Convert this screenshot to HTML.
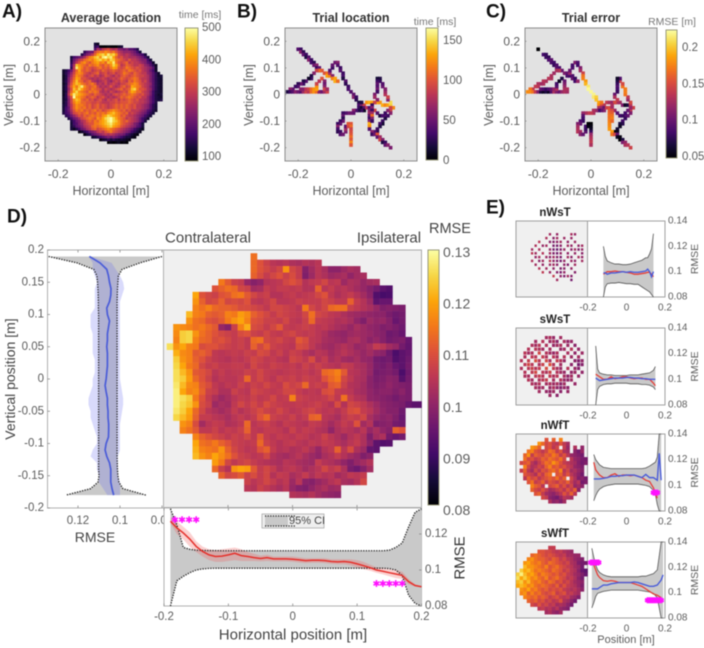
<!DOCTYPE html>
<html><head><meta charset="utf-8"><title>RMSE maps</title>
<style>
html,body{margin:0;padding:0;background:#fff;width:704px;height:648px;overflow:hidden}
svg{display:block;filter:blur(0.55px);font-family:"Liberation Sans",sans-serif}
</style></head>
<body>
<svg id="chart" xmlns="http://www.w3.org/2000/svg" width="704" height="648" viewBox="0 0 704 648">
<defs><linearGradient id="inferno" x1="0" y1="1" x2="0" y2="0">
<stop offset="0" stop-color="#000004"/><stop offset=".1" stop-color="#160b39"/><stop offset=".2" stop-color="#420a68"/><stop offset=".3" stop-color="#6a176e"/><stop offset=".4" stop-color="#932667"/><stop offset=".5" stop-color="#bc3754"/><stop offset=".6" stop-color="#dd513a"/><stop offset=".7" stop-color="#f37819"/><stop offset=".8" stop-color="#fca50a"/><stop offset=".9" stop-color="#f6d746"/><stop offset="1" stop-color="#fcffa4"/>
</linearGradient></defs>
</svg>
<script>
// Panel A: average time per cell, tens of ms; each row = [first x in cm, values...], from y=19 cm down
const avgTimeRows=[
[-6,14,12],
[-6,16,18,10,9,9,11,10,10,10,12,14],
[-6,20,28,25,30,32,34,30,28,30,25,24,22,24,20,20,18,15],
[-10,16,20,22,22,32,36,38,37,40,38,36,38,34,30,28,26,26,26,24,22,18,14],
[-11,15,20,24,26,30,36,42,44,46,42,48,44,46,40,32,30,28,30,28,26,24,22,20,18,14],
[-15,14,18,20,22,24,28,34,38,40,44,46,40,48,50,46,48,42,36,32,34,30,30,28,28,28,26,24,22,18,14],
[-15,15,22,26,30,32,36,38,40,38,42,44,46,42,44,40,46,44,38,36,34,32,30,34,30,30,28,26,24,24,18,14],
[-15,16,24,30,34,38,40,36,34,38,40,42,38,40,36,44,42,48,38,34,32,34,36,30,32,30,30,28,26,24,20,18,13],
[-15,18,28,44,40,38,36,34,38,36,38,40,36,34,38,36,40,46,42,36,30,32,36,34,32,30,30,32,30,26,24,20,16,12],
[-15,16,30,48,42,38,34,36,34,32,34,36,38,34,36,34,38,42,40,34,32,34,38,36,34,32,34,32,30,28,26,24,20,13],
[-18,13,15,18,22,30,36,42,36,34,36,34,30,32,34,32,36,34,32,34,36,34,32,34,36,34,38,36,34,32,34,30,28,26,22,18,13],
[-18,13,16,20,26,32,38,40,38,34,32,30,32,34,36,30,32,34,30,32,34,30,32,34,38,36,34,32,36,34,32,30,30,26,24,20,16,13],
[-18,12,15,22,28,34,40,38,36,32,30,32,34,30,32,28,30,34,32,30,28,32,30,34,36,34,32,34,36,34,32,32,30,28,24,20,16,13,14],
[-18,12,15,24,30,36,42,40,34,34,32,30,28,30,28,30,32,30,28,30,32,30,32,36,34,32,34,36,38,36,32,30,30,28,24,20,16,14,13],
[-18,13,16,24,32,38,44,38,36,32,34,36,30,28,26,28,30,32,28,26,30,32,30,34,32,30,36,34,38,36,34,30,32,28,24,20,16,14,13],
[-18,12,15,26,34,40,44,42,38,36,34,36,38,34,28,30,28,32,28,30,32,30,28,32,32,34,36,38,40,38,34,32,30,28,26,20,16,14,13],
[-18,13,16,28,36,42,38,44,48,40,36,34,36,38,32,28,30,28,30,34,30,28,30,34,36,32,34,42,40,38,36,32,30,28,24,20,16,14,13],
[-18,13,16,26,34,44,40,46,42,38,36,34,38,36,34,32,28,32,30,28,30,32,34,36,32,34,36,44,46,38,34,34,32,28,26,20,16,14,13],
[-18,12,15,28,36,42,46,40,38,36,34,38,36,38,36,30,28,30,28,32,30,28,30,32,34,32,38,42,40,36,36,32,30,28,24,18,15,14,13],
[-18,12,16,30,40,48,44,42,40,38,36,34,32,36,34,32,30,28,30,28,32,34,32,34,36,34,36,38,36,34,32,34,30,28,24,18,15,13,14],
[-18,13,16,26,34,50,42,40,38,36,32,34,36,34,30,32,34,30,28,30,28,30,32,36,34,36,38,36,34,32,34,30,30,26,22,18,15,14,13],
[-18,13,15,24,32,40,44,42,36,34,36,32,34,30,32,34,30,28,32,30,32,34,30,34,32,34,36,34,32,34,30,30,28,26,22,18,15,14,15],
[-18,13,16,24,32,38,42,40,36,36,34,34,32,32,34,32,30,30,30,32,32,34,32,34,34,34,36,34,32,32,30,30,28,26,22,18,15],
[-18,14,16,24,30,36,40,38,38,36,34,36,32,34,36,32,34,32,30,32,34,36,34,36,34,36,34,32,34,30,30,28,26,24,20,16,14],
[-18,14,18,22,30,36,40,38,36,38,34,36,32,34,36,32,34,32,30,32,34,36,34,36,34,36,34,32,34,30,30,28,26,24,20,16,14],
[-18,14,18,22,28,34,38,36,38,34,36,34,36,38,34,36,32,34,36,38,40,38,36,34,36,32,34,30,30,30,28,26,24,20,18,15,13],
[-18,15,18,20,26,32,34,36,34,36,38,34,36,34,38,36,38,36,40,42,44,40,38,36,34,36,30,32,30,28,26,24,22,18,16,14],
[-17,16,18,22,26,30,34,32,36,34,36,38,36,38,36,40,42,46,44,42,40,38,34,36,32,30,30,28,26,24,22,18,16,14],
[-16,15,18,22,24,28,32,34,36,38,36,34,40,38,42,46,48,50,46,42,38,36,34,30,32,30,28,26,22,18,16,13],
[-15,15,18,22,24,28,30,34,36,34,38,36,40,42,44,48,50,46,44,40,36,34,36,32,30,28,26,22,18,14],
[-15,14,18,20,24,26,30,32,34,34,38,38,40,42,44,46,48,44,42,40,36,34,32,30,28,24,22,18,14],
[-15,14,16,20,22,24,28,30,32,36,38,36,38,40,42,44,46,42,40,38,34,32,30,28,26,24,20,18,14],
[-15,14,12,15,18,22,24,28,30,34,36,32,34,36,38,40,38,36,34,32,30,28,26,24,22,18,16,14,12],
[-12,11,13,16,18,22,24,26,30,32,30,34,36,38,34,32,30,28,26,24,22,18,16,14,12],
[-10,11,14,16,20,22,24,26,28,30,28,30,28,26,24,24,22,18,16,14,12,11],
[-7,13,14,16,18,20,22,24,22,24,22,20,18,16,14,14,12,11],
[-4,11,13,14,16,14,16,14,13,14,13,12,11],
[-1,10,11,10,11,12,10,11,10]
];
const avgTimeTicks=[100,200,300,400,500];

// Panels B and C: one trial, positions in cm, time in ms, error in thousandths of a metre (0 = cell not drawn)
const trialX=[
-20,-19,-19,-18,-18,-17,-17,-16,-16,-15,-15,-14,-14,-13,-13,-12,-12,-11,
-12,-13,-14,-15,-15,-16,-17,-18,-18,-19,-20,-20,-21,-22,-23,-24,
-23,-22,-21,-20,-19,-18,-17,-16,-15,-14,-13,-12,-11,-10,-9,
-19,-18,-17,-16,-15,-14,-13,
-13,-13,-12,-11,-10,-10,-10,-10,-9,
-10,-9,-9,-8,-7,-7,-6,-6,-5,
-8,-8,-7,-7,-6,-5,-5,-4,
-4,-3,-3,-3,-2,-2,-1,-1,0,1,1,2,2,3,3,
4,5,6,7,8,9,10,11,12,13,14,15,
15,16,15,15,14,13,13,12,12,11,11,10,10,9,
14,14,13,13,13,12,12,11,11,10,10,10,10,10,10,9,9,10,9,
4,3,4,5,5,4,3,2,1,1,0,
6,7,7,7,7,7,7,7,7,7,8,8,9,10,10,11,11,12,12,13,13,14,15,
8,8,9,10,11,12,13,14,15,8,8,8,8,8,
-1,-2,-3,-3,-3,-3,-4,-4,-5,-5,-5,-5,-4,-4,-3,-2,-2,-2,-1,-1,0,0,0,0,0,0,0,0,0
];
const trialY=[
17,17,16,16,15,15,14,14,13,13,12,12,11,11,10,10,9,9,
9,9,8,7,6,6,5,5,4,4,4,3,3,2,2,1,
1,1,1,1,1,1,1,1,1,1,1,1,1,1,1,
2,2,2,2,2,2,2,
3,4,5,6,5,4,3,2,2,
8,8,7,7,7,6,6,5,5,
8,9,10,11,12,12,11,10,
9,8,7,6,5,4,3,2,1,0,-1,-1,-2,-3,-4,
-4,-4,-3,-3,-3,-3,-3,-3,-4,-4,-4,-4,
-3,-5,-6,-7,-8,-8,-9,-10,-11,-11,-12,-13,-14,-14,
-2,-1,0,1,2,3,4,5,6,6,5,4,3,2,1,0,-1,-2,-3,
-3,-5,-5,-5,-6,-6,-6,-6,-6,-7,-7,
-5,-5,-6,-7,-8,-9,-10,-11,-12,-13,-14,-15,-15,-15,-16,-16,-17,-17,-18,-18,-19,-19,-20,
-4,-5,-6,-7,-8,-8,-7,-6,-5,-6,-7,-8,-9,-10,
-7,-7,-7,-8,-9,-10,-10,-11,-11,-12,-13,-14,-14,-15,-15,-14,-13,-12,-12,-11,-11,-12,-13,-14,-15,-16,-17,-18,-19
];
const trialTime=[
40,30,60,25,45,30,20,40,60,30,35,25,50,60,30,45,70,100,
110,90,60,20,30,10,40,20,30,50,25,40,30,45,60,20,
30,40,60,50,40,70,90,80,110,125,110,60,50,70,90,
60,60,80,90,110,125,130,
125,90,80,100,60,50,60,90,70,
100,110,130,120,60,120,130,135,110,
70,40,30,45,50,60,40,30,
40,30,35,20,40,25,30,35,40,45,60,30,25,20,35,
60,90,125,135,130,140,130,125,135,120,130,145,
150,120,90,60,30,40,20,30,15,35,20,30,25,40,
60,90,80,70,60,50,40,30,20,15,30,45,40,50,30,55,70,60,90,
20,30,15,40,10,30,20,35,60,45,50,
80,40,60,70,45,30,60,135,125,40,60,30,50,100,45,70,90,60,20,30,45,60,55,
30,60,90,40,20,35,30,60,90,30,70,110,60,30,
50,40,30,45,25,50,30,45,30,60,35,25,30,40,50,55,70,45,90,100,100,110,90,95,100,110,100,120,100
];
const trialError=[
50,0,0,0,85,80,82,78,90,95,90,85,80,90,95,88,92,100,
135,130,125,130,130,135,130,135,130,125,130,135,140,140,170,180,
180,170,140,110,70,60,70,60,90,130,110,100,120,130,125,
100,90,80,90,100,120,130,
95,85,60,70,100,110,120,130,130,
110,100,90,85,90,100,80,85,120,
120,100,90,85,110,90,85,110,
125,145,170,175,185,195,215,222,222,220,215,205,200,190,180,
150,135,140,130,120,110,130,125,110,60,70,135,
150,145,140,110,100,95,80,85,75,70,60,65,60,55,
120,135,170,175,175,170,150,145,90,60,70,80,90,85,80,100,130,140,150,
170,130,120,100,115,100,85,120,130,130,140,
145,150,160,165,170,170,175,178,180,185,185,170,150,100,60,55,50,70,110,120,130,135,145,
130,125,120,95,85,80,85,100,120,150,160,170,175,165,
140,130,120,95,85,80,90,100,110,125,130,135,125,115,100,95,80,85,55,50,50,55,60,80,120,130,135,140,130
];
const trialTimeTicks=[0,50,100,150];
const trialErrorTicks=[0.05,0.1,0.15,0.2];
const mapTicks=[-0.2,0,0.2];
const mapYTicks=[0.2,0.1,0,-0.1,-0.2];

// Panel D heatmap: RMSE in thousandths; each row = [first x in cm, values...], from y=19 cm down
const rmseRows=[
[-6,114],
[-6,113,110,107,104,103,104,102,101,103,102,104],
[-6,113,110,108,106,108,118,108,106,95,100,104,101,96,96,99,101,100],
[-6,112,109,106,108,110,107,109,106,94,99,104,102,99,100,101,97,100,101],
[-11,115,111,107,106,98,95,97,103,104,105,108,110,108,103,105,106,108,104,105,99,102,101,98,100,101],
[-12,110,112,114,113,108,107,100,101,106,104,106,106,105,106,103,103,112,104,106,103,104,102,100,98,95,92,88,86],
[-15,120,110,108,107,110,111,114,115,111,108,106,107,103,103,105,106,104,105,106,108,110,105,102,104,106,103,100,96,86,84,85],
[-15,118,112,108,109,112,108,109,108,110,105,104,106,108,104,104,105,107,106,106,106,108,107,105,105,112,106,103,99,88,90,90],
[-15,116,114,116,113,112,112,111,109,109,108,107,105,108,108,107,106,104,115,108,106,108,113,114,114,107,105,103,101,98,94,95,94,93],
[-16,122,116,115,112,111,112,116,115,119,117,112,110,108,106,108,107,106,105,108,114,108,107,105,104,102,100,99,98,97,96,96,93,91,92],
[-16,118,114,113,110,109,111,115,118,120,116,110,109,107,107,106,108,105,104,107,113,106,105,104,102,103,101,97,94,99,97,98,95,90,92],
[-18,118,117,116,114,115,113,111,98,95,107,116,121,109,108,106,108,111,106,105,106,107,106,104,105,103,101,100,98,101,99,97,96,94,95,93,91],
[-18,117,124,125,118,114,112,110,108,107,106,109,110,107,106,108,106,105,107,108,106,105,106,104,102,99,98,97,99,100,99,98,96,95,91,92,90],
[-18,116,124,125,116,113,112,109,110,108,106,107,105,113,114,108,107,108,106,105,111,109,105,104,101,100,99,98,101,102,99,96,98,95,92,93,94,90],
[-19,126,118,120,116,115,109,110,110,108,107,106,107,105,112,108,111,107,106,105,104,109,108,105,102,100,99,101,103,101,98,99,101,106,104,100,98,92,89],
[-18,121,117,116,111,112,110,105,104,105,106,105,107,106,109,108,105,107,104,107,106,103,101,104,103,100,102,104,102,100,98,100,97,96,91,85,88,90],
[-18,124,118,116,112,110,107,105,104,103,105,104,106,108,107,105,106,104,103,108,107,105,109,103,106,101,103,100,99,101,98,97,92,91,92,86,88,91],
[-18,125,120,115,113,108,106,107,105,105,106,106,104,108,106,105,107,106,105,106,104,107,105,107,105,104,103,106,105,102,101,98,93,92,94,90,88,92],
[-18,126,122,118,111,110,108,104,106,104,105,105,107,106,108,106,105,104,105,106,105,106,104,106,113,114,116,111,104,103,101,98,92,93,94,92,85,91],
[-18,126,124,119,113,110,107,103,105,104,104,106,113,106,108,106,104,107,106,107,105,107,106,105,110,113,115,108,105,102,101,96,93,94,96,95,87,92],
[-18,127,122,117,116,111,109,105,103,105,104,107,105,107,106,108,106,105,109,107,108,113,106,107,106,111,112,107,103,102,100,96,94,95,97,95,94,93],
[-18,128,120,116,117,112,107,106,102,102,107,105,104,108,107,106,105,106,108,108,106,104,105,104,109,110,106,105,104,101,100,97,95,96,96,94,96,93],
[-18,128,126,124,115,110,106,102,99,101,104,106,105,107,105,106,108,105,106,116,107,106,105,105,106,108,105,114,106,103,102,97,96,95,94,92,94,93],
[-18,128,125,123,118,109,107,99,101,100,105,108,106,108,106,109,107,106,105,105,106,105,106,107,105,103,109,103,108,107,105,102,99,96,95,94,93,90,88,88],
[-18,127,124,120,113,108,104,102,100,102,106,103,105,107,109,107,106,108,106,104,105,107,108,106,104,105,103,106,109,110,106,104,100,97,95,95,91],
[-18,125,122,119,112,106,106,104,103,101,104,106,104,106,110,113,107,106,105,107,104,106,112,113,104,103,101,105,107,106,108,101,98,96,97,94,90],
[-17,118,116,109,100,104,106,105,102,103,105,113,104,106,107,105,103,106,105,104,103,106,105,103,100,103,106,104,110,100,103,94,95,96,92,91],
[-17,116,114,111,105,105,107,104,106,105,107,112,105,104,106,106,105,103,107,104,106,105,103,102,97,102,104,103,101,104,98,101,97,95,112,110],
[-15,116,112,110,108,107,105,107,106,108,105,111,106,104,106,105,104,106,105,103,104,107,104,102,99,103,105,102,94,100,102,92,90,92],
[-15,120,114,113,115,112,110,107,106,105,106,113,107,105,103,105,106,104,103,105,104,106,105,103,101,104,106,102,96,88,86,87],
[-15,121,116,115,114,118,112,108,106,104,105,110,112,106,103,104,102,103,105,102,98,103,105,112,104,109,102,99,89,88],
[-15,122,118,116,120,117,114,110,107,106,104,105,108,103,101,100,102,104,101,99,97,101,103,106,103,100,98,94,96],
[-12,119,115,108,105,107,108,106,104,103,102,101,104,103,101,100,99,106,103,102,100,97,94,98,100,103],
[-12,113,107,103,118,120,119,111,106,108,106,102,104,105,103,100,102,104,108,105,107,102,93,91,95,100],
[-11,112,108,109,111,107,109,106,108,103,106,105,101,103,106,102,105,103,104,100,102,105,104,106],
[-7,107,104,106,108,106,103,105,99,104,96,95,98,100,103,105,101,100,103,108],
[-7,104,103,107,105,103,101,104,98,95,94,97,100,102,99,100],
[0,103,102,101,103,100,98,97,96]
];
const rmseTicks=[0.13,0.12,0.11,0.1,0.09,0.08];

// Panel D marginal, vertical position (m) against RMSE (thousandths)
const verticalPos=[.19,.18,.17,.16,.15,.14,.13,.12,.11,.1,.09,.08,.07,.06,.05,.04,.03,.02,.01,0,-.01,-.02,-.03,-.04,-.05,-.06,-.07,-.08,-.09,-.1,-.11,-.12,-.13,-.14,-.15,-.16,-.17,-.18];
const verticalBlue=[114.6,109.5,106.3,105.5,105,104.3,104.4,105,106.3,106,105,105.5,106,106,106.3,106,106,106,106.3,106.6,107.1,106.6,106,106,105.7,105.7,105.4,105.4,105.5,106.6,107.1,106.3,105,104.4,104.4,104.4,103.8,103];
const verticalBlueHigh=[115,113,113,112,111,112,112,112,112,114,114,114,113,113,113,113,112,112,112,113,113,114,115,115,114,114,113,112,111,111,113,114,111,111,110,110,108,106];
const verticalBlueLow=[114,104,102,100,98.5,98,99,100,100,100,100,100,100,100,100,100,100,100,100,100,99.5,99,98.5,98.5,99,99.5,100,100,100,100,100,101,101,101,101,100,100,100];
const verticalCiHigh=[134,120.5,112.5,111,110.7,110.5,110.4,110.3,110.3,110.2,110.2,110.2,110.2,110.2,110.2,110.2,110.2,110.2,110.2,110.2,110.2,110.2,110.2,110.2,110.2,110.2,110.2,110.2,110.2,110.2,110.2,110.2,110.2,110.2,110,110.5,114,125.7];
const verticalCiLow=[80,90.5,99,100.8,101,101.2,101.3,101.4,101.4,101.4,101.4,101.4,101.4,101.4,101.4,101.4,101.4,101.4,101.4,101.4,101.4,101.4,101.4,101.4,101.4,101.4,101.4,101.4,101.4,101.4,101.4,101.4,101.3,101.2,101,100.5,98.6,87.7];
const verticalTicks=[.2,.15,.1,.05,0,-.05,-.1,-.15,-.2];
const verticalRmseTicks=[0.12,0.1,0.08];

// Panel D marginal, horizontal position (m) against RMSE (thousandths)
const horizontalPos=[-.19,-.18,-.17,-.16,-.15,-.14,-.13,-.12,-.11,-.1,-.09,-.08,-.07,-.06,-.05,-.04,-.03,-.02,-.01,0,.01,.02,.03,.04,.05,.06,.07,.08,.09,.1,.11,.12,.13,.14,.15,.16,.17,.18,.19,.2];
const horizontalRed=[127.1,123.4,120.6,117.2,113.1,110.3,108.4,107.5,107.7,108.4,109.3,108,107.5,106.9,106.4,106.9,106.2,106.2,106.2,106,105.6,105.2,105.4,105.4,105.2,104.7,104.5,104.7,104.3,103.4,102.4,101.3,100,99.3,98.5,97.8,97,93.5,91.4,90.7];
const horizontalRedHigh=[129,127,124,121,116,113,111.5,111,111.5,112,112.5,111.5,110,109,108,108.5,107.5,107.5,107.5,107.5,107,106.5,106.5,106.5,106.5,106,106,106,106,105.5,104.5,103,101.5,101,100.5,100,99,95,92,91];
const horizontalRedLow=[126,120,117,113,110,107.5,105.5,104.5,104.5,105,105.5,105,105,105,104.8,105,104.8,104.8,104.8,104.6,104.2,103.8,104,104,103.8,103.4,103.2,103.2,102.6,101.4,100.4,99.6,98.5,97.6,96.5,95.5,95,92,90.8,90.4];
const horizontalCiHigh=[134,125,112.5,111.5,111,110.9,110.8,110.8,110.7,110.7,110.7,110.7,110.7,110.7,110.7,110.7,110.7,110.7,110.7,110.7,110.7,110.7,110.7,110.7,110.7,110.7,110.7,110.7,110.7,110.7,110.7,110.7,110.7,110.7,111,112.5,115,124,132,134];
const horizontalCiLow=[80,94,96.5,98.5,100,100.6,100.9,101,101,101,101,101,101,101,101,101,101,101,101,101,101,101,101,101,101,101,101,101,101,101,101,101,101,101,100.8,100,97,86,81.5,80];
const horizontalTicks=[-0.2,-0.1,0,0.1,0.2];
const horizontalRmseTicks=[0.12,0.1,0.08];
const contraStarsX=[-.183,-.172,-.161,-.15];
const contraStarsY=[128,128,128,128];
const ipsiStarsX=[.13,.14,.15,.16,.17];
const ipsiStarsY=[92.5,92.5,92.5,92.5,92.5];

// Panel E maps: RMSE thousandths on a 2 cm grid, x from -19 to 19, y from 19 to -19; 0 = empty
const nWsTMap=[
[0,0,0,0,0,0,0,0,0,0,0,0,0,0,0,0,0,0,0,0],
[0,0,0,0,0,0,0,0,0,0,0,0,0,0,0,0,0,0,0,0],
[0,0,0,0,0,0,0,0,0,0,0,0,0,0,0,0,0,0,0,0],
[0,0,0,0,0,0,0,0,0,100,0,98,0,0,0,101,98,0,0,0],
[0,0,0,0,0,0,0,0,102,0,96,100,0,99,0,98,0,0,0,0],
[0,0,0,0,0,0,104,0,0,96,94,97,100,0,97,0,99,0,0,0],
[0,0,0,0,0,102,0,98,100,0,93,92,96,0,100,98,0,97,100,0],
[0,0,0,0,100,0,102,0,0,98,92,90,94,99,0,96,100,94,98,0],
[0,0,0,0,104,100,0,103,0,100,94,92,98,0,97,0,98,0,96,0],
[0,0,0,0,0,98,101,0,99,96,100,95,93,0,100,96,0,101,98,0],
[0,0,0,0,102,0,96,100,0,104,97,94,92,98,0,99,97,0,100,0],
[0,0,0,0,0,100,0,98,0,99,100,96,0,97,94,0,100,0,0,0],
[0,0,0,0,0,0,103,0,100,0,97,0,94,96,0,98,0,0,0,0],
[0,0,0,0,0,0,0,105,0,99,0,95,93,98,0,0,95,0,0,0],
[0,0,0,0,0,0,0,0,0,0,106,0,97,94,100,95,0,0,0,0],
[0,0,0,0,0,0,0,0,0,0,0,100,0,0,0,92,0,0,0,0],
[0,0,0,0,0,0,0,0,0,0,0,0,0,0,0,0,0,0,0,0],
[0,0,0,0,0,0,0,0,0,0,0,0,0,0,0,0,0,0,0,0],
[0,0,0,0,0,0,0,0,0,0,0,0,0,0,0,0,0,0,0,0],
[0,0,0,0,0,0,0,0,0,0,0,0,0,0,0,0,0,0,0,0]
];
const sWsTMap=[
[0,0,0,0,0,0,0,0,0,0,0,0,0,0,0,0,0,0,0,0],
[0,0,0,0,0,0,0,0,0,0,0,0,0,0,0,0,0,0,0,0],
[0,0,0,0,0,0,0,0,100,102,98,0,100,0,0,0,0,0,0,0],
[0,0,0,0,0,100,0,103,0,99,101,96,0,101,97,98,0,0,0,0],
[0,0,0,0,102,100,104,0,102,0,98,100,102,0,99,0,96,0,0,0],
[0,0,0,103,0,104,102,100,0,101,0,0,98,100,0,103,0,98,0,0],
[0,0,104,100,102,0,108,0,103,100,98,102,0,0,101,0,97,0,99,0],
[0,0,102,0,105,104,0,106,102,0,104,100,0,103,0,99,0,100,0,0],
[0,103,0,106,0,109,104,0,108,101,0,106,103,98,0,0,96,94,97,0],
[0,0,104,108,104,0,102,107,0,110,103,0,100,0,0,96,0,92,95,0],
[0,102,0,104,107,103,106,0,109,0,106,101,99,0,103,0,98,95,0,0],
[0,0,103,0,105,108,0,104,102,107,0,103,100,98,0,97,99,0,97,0],
[0,0,102,101,0,104,106,103,0,105,102,104,0,101,96,100,0,98,0,0],
[0,0,0,103,100,0,102,104,106,0,101,0,103,98,97,99,0,0,0,0],
[0,0,0,0,102,100,103,0,100,102,99,101,96,100,0,0,98,0,0,0],
[0,0,0,0,0,101,99,100,0,98,102,97,95,98,96,0,0,0,0,0],
[0,0,0,0,0,0,100,0,98,97,99,0,96,0,98,0,0,0,0,0],
[0,0,0,0,0,0,0,0,0,99,0,96,0,0,0,0,0,0,0,0],
[0,0,0,0,0,0,0,0,0,0,0,0,0,0,0,0,0,0,0,0],
[0,0,0,0,0,0,0,0,0,0,0,0,0,0,0,0,0,0,0,0]
];
const nWfTMap=[
[0,0,0,0,0,0,0,0,0,0,0,0,0,0,0,0,0,0,0,0],
[0,0,0,0,0,0,0,0,110,0,112,0,116,0,0,0,0,0,0,0],
[0,0,0,0,0,0,118,113,108,110,106,104,110,105,100,0,0,0,0,0],
[0,0,0,0,118,116,112,0,108,110,104,108,0,106,98,0,102,0,97,0],
[0,0,0,114,116,110,108,105,108,114,112,106,110,102,100,0,96,92,98,0],
[0,0,112,118,106,112,110,108,112,110,115,112,106,110,104,98,96,94,92,0],
[0,0,114,108,110,106,108,112,110,114,112,110,114,108,0,104,98,96,93,92],
[0,108,110,112,104,100,106,110,114,112,118,114,110,106,104,102,100,95,92,94],
[0,0,116,108,102,104,108,106,112,116,110,112,108,110,106,104,98,96,94,0],
[0,106,112,104,100,108,104,110,108,112,114,110,116,104,108,100,102,98,95,0],
[0,0,110,108,106,102,110,106,112,114,0,110,112,106,110,104,100,96,92,0],
[0,0,104,112,108,110,104,108,110,112,110,114,108,112,0,108,102,94,96,92],
[0,0,0,110,114,106,108,112,106,110,108,106,110,108,112,106,100,104,92,94],
[0,0,0,0,116,112,110,104,0,108,110,112,106,110,104,108,98,100,96,0],
[0,0,0,0,112,108,106,110,106,100,102,106,108,104,110,106,112,96,0,0],
[0,0,0,0,0,110,112,106,100,98,96,100,104,110,106,112,104,0,0,0],
[0,0,0,0,0,0,0,108,106,96,94,92,98,104,102,100,0,0,0,0],
[0,0,0,0,0,0,0,0,0,102,96,98,94,100,0,0,0,0,0,0],
[0,0,0,0,0,0,0,0,0,0,0,0,0,0,0,0,0,0,0,0],
[0,0,0,0,0,0,0,0,0,0,0,0,0,0,0,0,0,0,0,0]
];
const sWfTMap=[
[0,0,0,0,0,0,0,0,0,0,0,0,0,0,0,0,0,0,0,0],
[0,0,0,0,0,0,0,0,0,106,106,0,0,0,0,0,0,0,0,0],
[0,0,0,0,0,0,110,110,108,108,106,104,106,102,100,98,0,0,0,0],
[0,0,0,0,112,114,112,110,108,110,108,106,104,106,100,100,98,98,0,0],
[0,0,0,116,118,114,112,112,110,108,112,110,106,108,104,102,98,96,94,0],
[0,0,118,120,116,114,116,112,110,114,112,110,108,106,108,102,100,94,92,92],
[0,0,122,118,118,116,114,112,116,110,112,114,110,108,106,104,100,98,92,0],
[0,124,120,122,118,114,116,114,112,110,114,112,110,106,108,104,102,96,90,88],
[124,128,122,118,120,116,112,116,114,112,110,112,108,110,106,104,100,98,94,90],
[126,120,124,120,116,118,114,112,116,110,112,114,110,108,104,106,102,96,92,0],
[122,124,118,122,116,114,116,112,110,114,112,108,110,106,108,104,100,98,96,0],
[120,122,120,116,118,114,112,114,112,110,108,112,106,110,106,104,102,98,94,0],
[0,118,116,120,114,116,112,110,112,108,110,108,110,106,104,102,104,100,96,0],
[0,116,118,112,116,112,114,110,108,110,112,106,108,110,104,106,102,100,0,0],
[0,0,116,114,112,114,110,112,110,106,108,110,106,104,106,100,98,94,0,0],
[0,0,0,112,110,112,108,110,106,108,104,106,110,102,100,96,92,0,0,0],
[0,0,0,0,108,106,110,106,108,104,106,100,102,100,96,92,0,0,0,0],
[0,0,0,0,0,0,104,106,102,104,100,104,98,96,94,0,0,0,0,0],
[0,0,0,0,0,0,0,0,100,102,98,96,100,0,0,0,0,0,0,0],
[0,0,0,0,0,0,0,0,0,0,0,0,0,0,0,0,0,0,0,0]
];

// Panel E lines: x in cm, RMSE thousandths
const nWsTX=[-12,-11,-10,-8,-6,-4,-2,0,2,4,6,8,10,11,12,13,14];
const nWsTUpper=[120,112,108.5,107,106,106,105.5,105.5,106,107,108,109,111,111,114,118,130];
const nWsTLower=[80,88,90.5,91,91,91.5,91,90.5,90.5,90,90,88,86,85,84,82,80];
const nWsTRed=[98,99,100,100,100.5,100,100,99.5,99,98,98,98.5,99,99.5,99.5,98,96];
const nWsTBlue=[99,99,98,99,99,99.5,100,99.5,100,99.5,99.5,100,100.5,102,100,96,100];
const sWsTX=[-16,-15,-14,-12,-10,-8,-6,-4,-2,0,2,4,6,8,10,12,14,15];
const sWsTUpper=[126,108,105,104,103.5,103.5,103,103,103,103,103.5,103.5,103.5,104,104.5,105,107,110];
const sWsTLower=[80,92,94.5,96,96.5,96.5,97,97,97,97,96.5,96.5,96.5,96,96,95.5,94,92];
const sWsTRed=[104,103,102,100,100,102,100.5,101,102,102,101,100.5,101,101,100,100,97,95];
const sWsTBlue=[101,100,99,99.5,100,100.5,101,101,101,101.5,101.5,101,101,100.5,100.5,100,100,100];
const nWfTX=[-17,-16,-15,-14,-12,-10,-8,-6,-4,-2,0,2,4,6,8,10,12,14,15,16,17,18];
const nWfTUpper=[124,120,118,116,114,113.5,113,113,113,113,113,113,113,113,113,113.5,115,117,118,122,140,140];
const nWfTLower=[88,92,95,97,99,100,100.5,101,101,101,101,101,101,101,100.5,100,99,96,93,85,80,80];
const nWfTRed=[118,112,110,108,106,106,108,109,107,108,108,107.5,108,107,106,104,103,98,94,90];
const nWfTBlue=[105,105,105,105,105.5,106,107,107,107.5,107.5,108,108,108,107,106,108.5,106,106,105,104,125,104];
const nWfTStarX=[14,15,16];
const nWfTStarY=[94.3,94.3,94.3];
const sWfTX=[-18,-17,-16,-15,-14,-12,-10,-8,-6,-4,-2,0,2,4,6,8,10,12,14,16,18,19];
const sWfTUpper=[135,128,122,118,116,114,113,112.5,112.5,112.5,112.5,112.5,112.5,112.5,112.5,113,113,114,115,118,140,140];
const sWfTLower=[88,92,97,99.5,100,101,101.5,102,102,102,102,102,102,102,102,101.5,101,100.5,99.5,96,80,80];
const sWfTRed=[125,122,118,114,112,109.5,109,109.5,109,108,108,108,108,107,106,105,103,101,99,98,96];
const sWfTBlue=[103,103,103,103,104,106,106,107,107.5,108,108,108,108,108.5,108,107,106,105,105,106,110,114];
const sWfTStarTopX=[-18.5,-17.5,-16.5,-15.5,-14.5];
const sWfTStarTopY=[123.8,123.8,123.8,123.8,123.8];
const sWfTStarBottomX=[11,12,13,14,15,16,17,18];
const sWfTStarBottomY=[94,94,94,94,94,94,94,94];
const smallRmseTicks=[0.14,0.12,0.1,0.08];
const smallPosTicks=[-0.2,0,0.2];

const NS='http://www.w3.org/2000/svg';
const svg=document.getElementById('chart');
const TICK='#5c5c5c',FRAME='#8c8c8c';
const infernoStops=['#000004','#160b39','#420a68','#6a176e','#932667','#bc3754','#dd513a','#f37819','#fca50a','#f6d746','#fcffa4'];
function add(parent,tag,attrs,name){
  const el=document.createElementNS(NS,tag);
  for(const k in attrs) el.setAttribute(k,attrs[k]);
  
  
  parent.appendChild(el);
  return el;
}
function txt(parent,x,y,s,size,name,opt){
  opt=opt||{};
  const a={x:x,y:y,'font-size':size,fill:opt.fill||TICK,'text-anchor':opt.anchor||'middle','dominant-baseline':'central'};
  if(opt.bold)a['font-weight']='bold';
  if(opt.rot)a.transform='rotate(-90 '+x+' '+y+')';
  const el=add(parent,'text',a,name);
  el.textContent=s;
  return el;
}
function linear(d0,d1,r0,r1){return v=>r0+(v-d0)/(d1-d0)*(r1-r0);}
function hex2(h,i){return parseInt(h.substr(i,2),16);}
function inferno(t){
  t=Math.max(0,Math.min(1,t))*10;
  const i=Math.min(9,Math.floor(t)),f=t-i,a=infernoStops[i],b=infernoStops[i+1];
  const c=[1,3,5].map(p=>Math.round(hex2(a,p)+(hex2(b,p)-hex2(a,p))*f));
  return 'rgb('+c.join(',')+')';
}
// RMSE colour: low values lifted slightly to match the muted look of the reference
function rmseColour(v){
  const lifted=v<106?106-(106-v)*.7:v;
  return inferno((lifted-80)/50);
}
function frame(g,x,y,w,h,fill,stroke,name){
  return add(g,'rect',{x:x,y:y,width:w,height:h,fill:fill,stroke:stroke||FRAME,'stroke-width':1},name);
}
function tickLine(g,x1,y1,x2,y2,name){
  add(g,'line',{x1:x1,y1:y1,x2:x2,y2:y2,stroke:'#8c8c8c','stroke-width':.8},name);
}
// rows: [firstX, values...]; fillFraction shrinks each cell inside its grid square
function heatRows(g,rows,topY,step,sx,sy,dom,colour,name,fillFraction){
  const ff=fillFraction||1;
  rows.forEach((row,i)=>{
    const yv=topY-i*step;
    row.slice(1).forEach((v,c)=>{
      if(!v)return;
      const xv=row[0]+c*step;
      const half=step/2*ff;
      const xa=sx(Math.max(dom[0],xv-half)),xb=sx(Math.min(dom[1],xv+half));
      const ya=sy(yv+half),yb=sy(yv-half);
      const pad=ff<1?0:.25;
      add(g,'rect',{x:xa.toFixed(2),y:ya.toFixed(2),width:(xb-xa+pad).toFixed(2),height:(yb-ya+pad).toFixed(2),fill:colour(v)},name);
    });
  });
}
function colorbar(g,x,y,w,h,name){
  add(g,'rect',{x:x,y:y,width:w,height:h,fill:'url(#inferno)',stroke:'#9a9a7a','stroke-width':1},name);
}
function linePath(g,xs,ys,sx,sy,style,name){
  const n=Math.min(xs.length,ys.length);
  let d='';
  for(let i=0;i<n;i++)d+=(i?'L':'M')+sx(xs[i]).toFixed(2)+' '+sy(ys[i]).toFixed(2);
  style.fill='none';style.d=d;
  return add(g,'path',style,name);
}
function bandPath(g,xs,hi,lo,sx,sy,fill,name){
  let d='';
  xs.forEach((x,i)=>{d+=(i?'L':'M')+sx(x).toFixed(2)+' '+sy(hi[i]).toFixed(2);});
  for(let i=xs.length-1;i>=0;i--)d+='L'+sx(xs[i]).toFixed(2)+' '+sy(lo[i]).toFixed(2);
  return add(g,'path',{d:d+'Z',fill:fill},name);
}
function stars(g,xs,ys,sx,sy,r,w,name){
  xs.forEach((x,i)=>{
    const cx=sx(x),cy=sy(ys[i]);let d='';
    for(let k=0;k<3;k++){
      const a=Math.PI/2+k*Math.PI/3,dx=r*Math.cos(a),dy=r*Math.sin(a);
      d+='M'+(cx-dx).toFixed(2)+' '+(cy-dy).toFixed(2)+'L'+(cx+dx).toFixed(2)+' '+(cy+dy).toFixed(2);
    }
    add(g,'path',{d:d,stroke:'#ff10ff','stroke-width':w,fill:'none'},name);
  });
}
function panelLetter(x,y,s,name){txt(svg,x,y,s,19,name,{fill:'#111',bold:true,anchor:'start'});}

// ---------- top row map axes ----------
function mapAxes(g,x0,titleText){
  const sx=linear(-25,25,x0,x0+132),sy=linear(-25,25,161,28);
  frame(g,x0,28,132,133,'#e2e2e2',null,'map-frame');
  mapTicks.forEach(t=>{
    tickLine(g,sx(t*100),161,sx(t*100),159.5,'x-tick');
    txt(g,sx(t*100),174,String(t),12,'x-tick-label');
  });
  mapYTicks.forEach(t=>{
    tickLine(g,x0,sy(t*100),x0+1.5,sy(t*100),'y-tick');
    txt(g,x0-5,sy(t*100),String(t),12,'y-tick-label',{anchor:'end'});
  });
  txt(g,x0+66,191,'Horizontal [m]',12.5,'x-axis-title');
  txt(g,x0-36,95,'Vertical [m]',12.5,'y-axis-title',{rot:true});
  txt(g,x0+66,18,titleText,12.5,'panel-title',{bold:true,fill:'#333'});
  return {sx,sy};
}
// Panel A
const gA=add(svg,'g',{},'panel-a');
panelLetter(2,12,'A)','panel-a-label');
const axA=mapAxes(gA,45,'Average location');
const avgTimeScale=linear(100,500,0,1);
heatRows(gA,avgTimeRows,19,1,axA.sx,axA.sy,[-25,25],v=>inferno(avgTimeScale(v*10)),'average-time-cell');
colorbar(gA,185,28,13,133,'time-colorbar');
const avgTickY=linear(100,500,157,28);
avgTimeTicks.forEach(t=>txt(gA,202,avgTickY(t),String(t),11.5,'colorbar-tick-label',{anchor:'start'}));
txt(gA,200,15,'time [ms]',10.5,'colorbar-title',{fill:'#777'});

// Trial cells
function trialCells(g,sx,sy,values,colour,name){
  trialX.forEach((x,i)=>{
    const v=values[i];
    if(!v)return;
    add(g,'rect',{x:(sx(x)-1.8).toFixed(2),y:(sy(trialY[i])-1.8).toFixed(2),width:3.6,height:3.6,fill:colour(v)},name);
  });
}
// Panel B
const gB=add(svg,'g',{},'panel-b');
panelLetter(237,12,'B)','panel-b-label');
const axB=mapAxes(gB,285,'Trial location');
const trialTimeScale=linear(0,165,0,1);
trialCells(gB,axB.sx,axB.sy,trialTime,v=>inferno(trialTimeScale(v)),'trial-time-cell');
colorbar(gB,426,28,12,132,'trial-time-colorbar');
const timeTickY=linear(0,150,161,41);
trialTimeTicks.forEach(t=>txt(gB,443,timeTickY(t),String(t),11.5,'colorbar-tick-label',{anchor:'start'}));
txt(gB,435,22,'time [ms]',10.5,'colorbar-title',{fill:'#777'});

// Panel C
const gC=add(svg,'g',{},'panel-c');
panelLetter(486,12,'C)','panel-c-label');
const axC=mapAxes(gC,525,'Trial error');
const trialErrorScale=linear(50,225,0,1);
trialCells(gC,axC.sx,axC.sy,trialError,v=>inferno(trialErrorScale(v)),'trial-error-cell');
colorbar(gC,666,30,11,128,'trial-error-colorbar');
const errTickY=linear(.05,.2,157,48);
trialErrorTicks.forEach(t=>txt(gC,682,errTickY(t),String(t),11.5,'colorbar-tick-label',{anchor:'start'}));
txt(gC,672,22,'RMSE [m]',10.5,'colorbar-title',{fill:'#777'});

// ---------- Panel D ----------
const gD=add(svg,'g',{},'panel-d');
panelLetter(7,217,'D)','panel-d-label');
const dx=linear(-20,20,163.5,421.5),dy=linear(-20,20,507.5,250);
frame(gD,163.5,250,258,257.5,'#f0f0f0','#aaaaaa','rmse-map-frame');
heatRows(gD,rmseRows,19,1,dx,dy,[-20,20],rmseColour,'rmse-cell');
[-10,0,10].forEach(t=>tickLine(gD,dx(t),507.5,dx(t),505,'map-tick'));
txt(gD,208,238,'Contralateral',15,'contralateral-label',{fill:'#444'});
txt(gD,389,238,'Ipsilateral',15,'ipsilateral-label',{fill:'#444'});
txt(gD,429,229,'RMSE',14.5,'rmse-colorbar-title',{anchor:'start',fill:'#444'});
colorbar(gD,428,250,11,255,'rmse-colorbar');
const rmseTickY=linear(.08,.13,510,252);
rmseTicks.forEach(t=>txt(gD,443,rmseTickY(t),String(t),14,'colorbar-tick-label',{anchor:'start'}));

// Left marginal
const gL=add(gD,'g',{},'vertical-marginal');
const vx=linear(100,120,120,78),vy=linear(-.2,.2,508,250);
const swapLine=(ys,vals,style,name)=>linePath(gL,vals,ys,vx,vy,style,name);
frame(gL,47.5,250,116,258,'#ffffff','#b0b0b0','vertical-marginal-frame');
function verticalBand(hi,lo,fill,name){
  let d='';
  verticalPos.forEach((p,i)=>{d+=(i?'L':'M')+vx(hi[i]).toFixed(2)+' '+vy(p).toFixed(2);});
  for(let i=verticalPos.length-1;i>=0;i--)d+='L'+vx(lo[i]).toFixed(2)+' '+vy(verticalPos[i]).toFixed(2);
  add(gL,'path',{d:d+'Z',fill:fill},name);
}
verticalBand(verticalCiHigh,verticalCiLow,'#c9c9c9','vertical-ci-band');
verticalBand(verticalBlueHigh,verticalBlueLow,'rgba(95,100,240,.24)','vertical-blue-band');
swapLine(verticalPos,verticalCiHigh,{stroke:'#222','stroke-width':1.3,'stroke-dasharray':'1.3 1.3'},'vertical-ci-upper');
swapLine(verticalPos,verticalCiLow,{stroke:'#222','stroke-width':1.3,'stroke-dasharray':'1.3 1.3'},'vertical-ci-lower');
swapLine(verticalPos,verticalBlue,{stroke:'#4a5cd8','stroke-width':1.7},'vertical-mean-line');
verticalTicks.forEach(t=>{
  tickLine(gL,47.5,vy(t),50,vy(t),'y-tick');
  txt(gL,44,vy(t),String(t),11.5,'y-tick-label',{anchor:'end'});
});
verticalRmseTicks.forEach(t=>{
  tickLine(gL,vx(t*1000),508,vx(t*1000),505.5,'x-tick');
  tickLine(gL,vx(t*1000),250,vx(t*1000),252.5,'x-tick');
  txt(gL,vx(t*1000),521,String(t),11.5,'x-tick-label');
});
txt(gL,95,537,'RMSE',14,'vertical-marginal-x-title',{fill:'#444'});
txt(gL,10,379,'Vertical position [m]',14,'vertical-marginal-y-title',{rot:true,fill:'#444'});

// Bottom marginal
const gH=add(gD,'g',{},'horizontal-marginal');
const hx=linear(-.2,.2,164,421.5),hy=linear(80,120,606,534);
frame(gH,164,508,257.5,98,'#ffffff','#b0b0b0','horizontal-marginal-frame');
bandPath(gH,horizontalPos,horizontalCiHigh,horizontalCiLow,hx,hy,'#c9c9c9','horizontal-ci-band');
bandPath(gH,horizontalPos,horizontalRedHigh,horizontalRedLow,hx,hy,'rgba(240,90,90,.28)','horizontal-red-band');
const dots={stroke:'#222','stroke-width':1.3,'stroke-dasharray':'1.3 1.3'};
linePath(gH,horizontalPos,horizontalCiHigh,hx,hy,Object.assign({},dots),'horizontal-ci-upper');
linePath(gH,horizontalPos,horizontalCiLow,hx,hy,Object.assign({},dots),'horizontal-ci-lower');
linePath(gH,horizontalPos,horizontalRed,hx,hy,{stroke:'#e5312c','stroke-width':1.5},'horizontal-mean-line');
stars(gH,contraStarsX,contraStarsY,hx,hy,3.4,1.6,'contralateral-significance-star');
stars(gH,ipsiStarsX,ipsiStarsY,hx,hy,3.4,1.6,'ipsilateral-significance-star');
horizontalTicks.forEach(t=>{
  tickLine(gH,hx(t),606,hx(t),603.5,'x-tick');
  tickLine(gH,hx(t),508,hx(t),510.5,'x-tick');
  txt(gH,hx(t),617,String(t),11.5,'x-tick-label');
});
horizontalRmseTicks.forEach(t=>{
  tickLine(gH,421.5,hy(t*1000),419,hy(t*1000),'y-tick');
  txt(gH,425,hy(t*1000),String(t),11.5,'y-tick-label',{anchor:'start'});
});
txt(gH,293,635,'Horizontal position [m]',15,'horizontal-marginal-x-title',{fill:'#444'});
txt(gH,460,558,'RMSE',15,'horizontal-marginal-y-title',{rot:true,fill:'#333'});
const gLeg=add(gH,'g',{},'ci-legend');
add(gLeg,'rect',{x:262,y:514,width:62,height:14,fill:'#efefef',stroke:'#aaa','stroke-width':.8},'legend-box');
add(gLeg,'rect',{x:265,y:516,width:23,height:10,fill:'#c9c9c9'},'legend-swatch');
add(gLeg,'line',{x1:265,y1:516,x2:295,y2:516,stroke:'#222','stroke-width':1.2,'stroke-dasharray':'1.3 1.3'},'legend-dots-top');
add(gLeg,'line',{x1:265,y1:526,x2:295,y2:526,stroke:'#222','stroke-width':1.2,'stroke-dasharray':'1.3 1.3'},'legend-dots-bottom');
txt(gLeg,289,521,'95% CI',11,'legend-label',{anchor:'start',fill:'#444'});

// ---------- Panel E ----------
panelLetter(486,208,'E)','panel-e-label');
function smallPanel(top,h,title,map,xs,upper,lower,red,blue,starSets,cellFill){
  const g=add(svg,'g',{},'condition-'+title);
  frame(g,516,top,71.5,h,'#f0f0f0','#a0a0a0','condition-map-frame');
  frame(g,587.5,top,77.5,h,'#ffffff','#a0a0a0','condition-line-frame');
  const mx=linear(-20,20,516,587.5),my=linear(-20,20,top+h,top);
  const rows=map.map(r=>[-19].concat(r));
  heatRows(g,rows,19,2,mx,my,[-20,20],rmseColour,'condition-map-cell',cellFill);
  const lx=linear(-20,20,588,665),ly=linear(80,140,top+h,top);
  const cl=add(g,'g',{},'condition-lines');
  const up=upper.map(v=>Math.min(v,140)),lo=lower.map(v=>Math.max(v,80));
  bandPath(cl,xs,up,lo,lx,ly,'#c9c9c9','condition-ci-band');
  linePath(cl,xs,up,lx,ly,{stroke:'#555','stroke-width':.8},'condition-ci-upper');
  linePath(cl,xs,lo,lx,ly,{stroke:'#555','stroke-width':.8},'condition-ci-lower');
  linePath(cl,xs,red,lx,ly,{stroke:'#e5403a','stroke-width':1.3},'condition-red-line');
  linePath(cl,xs,blue,lx,ly,{stroke:'#4a5cd8','stroke-width':1.4},'condition-blue-line');
  (starSets||[]).forEach(s=>stars(cl,s[0],s[1],lx,ly,3,2,'condition-significance-star'));
  smallRmseTicks.forEach(t=>txt(g,668,ly(t*1000),String(t),10,'condition-y-tick-label',{anchor:'start'}));
  smallPosTicks.forEach(t=>txt(g,lx(t*100),top+h+11,String(t),10,'condition-x-tick-label'));
  txt(g,695,top+h/2,'RMSE',10.5,'condition-y-title',{rot:true});
  txt(g,555,top-8,title,11.5,'condition-title',{bold:true,fill:'#222'});
}
smallPanel(221,76,'nWsT',nWsTMap,nWsTX,nWsTUpper,nWsTLower,nWsTRed,nWsTBlue,null,.65);
smallPanel(328,77,'sWsT',sWsTMap,sWsTX,sWsTUpper,sWsTLower,sWsTRed,sWsTBlue,null,.85);
smallPanel(434,77,'nWfT',nWfTMap,nWfTX,nWfTUpper,nWfTLower,nWfTRed,nWfTBlue,[[nWfTStarX,nWfTStarY]]);
smallPanel(542,76,'sWfT',sWfTMap,sWfTX,sWfTUpper,sWfTLower,sWfTRed,sWfTBlue,[[sWfTStarTopX,sWfTStarTopY],[sWfTStarBottomX,sWfTStarBottomY]]);
txt(svg,626,640,'Position [m]',11,'position-axis-title');
</script>
</body></html>
